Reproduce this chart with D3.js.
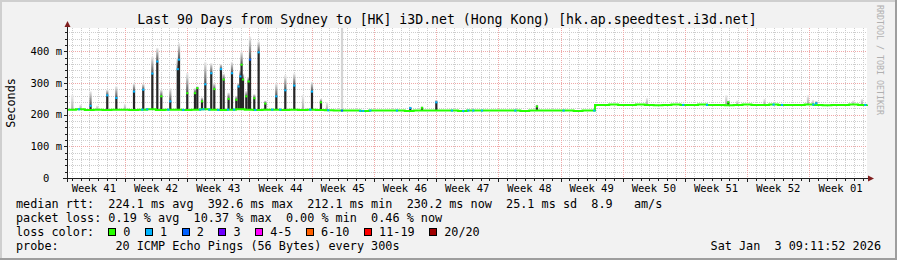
<!DOCTYPE html>
<html>
<head>
<meta charset="utf-8">
<script src="https://cdn.jsdelivr.net/npm/d3@7"></script>
<style>
  body { margin: 0; background: #f2f2f2; }
  svg { display: block; }
  text { font-family: "DejaVu Sans Mono", monospace; white-space: pre; }
</style>
</head>
<body>
<div id="chart"></div>
<script>
// ---- data ----
const graphStart = Date.UTC(2025, 9, 6, 11, 30);   // left edge of the plot
const graphDays = 90;
const yTop = 474;                                    // ms at top of plot

const titleText = "Last 90 Days from Sydney to [HK] i3D.net (Hong Kong) [hk.ap.speedtest.i3d.net]";
const statLines = [
  "median rtt:  224.1 ms avg  392.6 ms max  212.1 ms min  230.2 ms now  25.1 ms sd  8.9   am/s",
  "packet loss: 0.19 % avg  10.37 % max  0.00 % min  0.46 % now",
  "loss color:",
  "probe:        20 ICMP Echo Pings (56 Bytes) every 300s"
];
const stampText = "Sat Jan  3 09:11:52 2026";

const lossLabels = ["0", "1", "2", "3", "4-5", "6-10", "11-19", "20/20"];
const lossColors = ["#26ff00", "#00b4ff", "#0060ff", "#6e00ff", "#ff00ff", "#ff6000", "#ff0000", "#a00000"];

// median rtt baseline (ms), day offset from graph start
const baseDay = [0,1,2,3,4,5,6,7,8,9,10,11,12,13,14,15,16,17,18,19,20,21,22,23,24,25,26,27,28,29,30,
  31,32,33,34,35,36,37,38,39,40,41,42,43,44,45,46,47,48,49,50,51,52,53,54,55,56,57,58,59,59.4,
  60,61,62,63,64,65,66,67,68,69,70,71,72,73,74,75,76,77,78,79,80,81,82,83,84,85,86,87,88,89,90];
const baseMs = [216,217,215,216,215,216,216,215,216,217,215,216,216,215,216,217,216,215,216,217,216,215,216,216,215,216,215,216,215,214,213,
  213,213,212,213,213,213,213,212,213,213,213,213,213,212,213,213,213,213,213,213,212,213,213,213,213,213,212,213,213,231,
  231,232,231,231,232,231,230,231,232,231,231,232,231,231,230,231,232,231,231,232,231,231,231,232,231,230,231,231,232,231,232];

// congestion spikes: day offset, median (ms), max ping (ms), lost pings
const spikeDay  = [0.60,1.53,2.65,3.41,4.53,5.55,6.52,7.54,8.58,9.60,10.16,10.61,11.62,12.46,12.60,13.53,14.40,14.66,15.19,15.56,
  16.23,16.57,17.32,17.62,18.18,18.56,19.05,19.30,19.50,19.64,19.80,20.17,20.43,20.59,21.07,21.56,22.31,23.55,24.56,25.57,
  26.55,27.56,28.57,29.25,38.62,39.94,41.55,52.87,65.25,74.17,74.40,75.41,78.48,83.36,83.92,84.29,88.45,89.43];
const spikeMed  = [216,218,228,217,261,253,216,273,279,330,368,258,242,344,374,268,268,284,242,296,
  331,281,344,311,250,331,247,289,321,358,311,258,305,374,252,397,235,258,277,292,
  216,273,239,215,221,222,239,226,232,232,239,232,232,232,232,236,232,234];
const spikeMax  = [263,232,274,229,279,290,235,300,298,384,411,279,284,380,426,332,284,290,255,367,
  363,300,360,330,270,367,260,300,340,400,330,275,320,447,265,432,245,300,325,331,
  263,304,250,240,226,226,247,232,253,262,245,245,250,262,247,243,245,250];
const spikeLoss = [0,0,1,0,1,1,0,1,1,1,1,0,1,1,1,0,0,0,0,1,
  1,0,1,0,0,1,0,1,1,0,0,0,0,2,0,1,0,1,1,1,
  0,1,0,0,1,0,1,0,0,0,0,0,0,0,0,1,0,0];

// sample with a single very late ping (light smoke to the top)
const outlierDay = [30.94];

// loss marks on the baseline
const lossDay = [1.35,8.47,9.03,11.40,13.08,14.99,15.33,16.01,17.02,18.12,18.79,21.18,23.09,23.99,27.37,29.39,30.94,
  33.00,33.33,34.12,37.12,43.31,44.58,45.15,45.71,46.69,50.44,55.87,59.32,69.33,72.00,79.49,80.44,83.96,89.81];
const lossCnt = [1,1,1,1,1,1,1,1,1,1,1,1,1,1,1,1,2,
  1,1,1,1,1,1,1,1,1,1,1,1,1,1,1,1,1,1];

// ---- layout ----
const W = 897, H = 260;
const plot = { left: 67, right: 867, top: 28, bottom: 178 };
const axisFont = 10.5, legFont = 11.8;
const legCharW = legFont * 0.602;

const svg = d3.select("#chart").append("svg")
  .attr("width", W).attr("height", H)
  .attr("xml:space", "preserve");

const day = d => new Date(graphStart + d * 864e5);

const x = d3.scaleTime()
  .domain([day(0), day(graphDays)])
  .range([plot.left, plot.right]);
const y = d3.scaleLinear()
  .domain([0, yTop])
  .range([plot.bottom, plot.top]);

const px = v => Math.round(v) + 0.5;

// frame
svg.append("rect").attr("width", W).attr("height", H).attr("fill", "#f2f2f2");
svg.append("rect").attr("x", 0).attr("y", 0).attr("width", W).attr("height", 2).attr("fill", "#cfcfcf");
svg.append("rect").attr("x", 0).attr("y", 0).attr("width", 2).attr("height", H).attr("fill", "#cfcfcf");
svg.append("rect").attr("x", 0).attr("y", H - 2).attr("width", W).attr("height", 2).attr("fill", "#9e9e9e");
svg.append("rect").attr("x", W - 2).attr("y", 0).attr("width", 2).attr("height", H).attr("fill", "#9e9e9e");

svg.append("rect")
  .attr("x", plot.left).attr("y", plot.top)
  .attr("width", plot.right - plot.left).attr("height", plot.bottom - plot.top)
  .attr("fill", "#fff");

// grid
const grid = svg.append("g").attr("shape-rendering", "crispEdges").attr("stroke-dasharray", "1,1");
const [t0, t1] = x.domain();
const mondays = d3.utcMonday.range(t0, t1);
const days = d3.utcDay.range(t0, t1).filter(d => d.getUTCDay() !== 1);

grid.selectAll(".vmin").data(days).join("line")
  .attr("x1", d => px(x(d))).attr("x2", d => px(x(d)))
  .attr("y1", plot.top).attr("y2", plot.bottom)
  .attr("stroke", "#cdcdcd");

const yMinor = d3.range(20, yTop, 20).filter(v => v % 100 !== 0);
const yMajor = d3.range(100, yTop, 100);

grid.selectAll(".hmin").data(yMinor).join("line")
  .attr("x1", plot.left).attr("x2", plot.right)
  .attr("y1", d => px(y(d))).attr("y2", d => px(y(d)))
  .attr("stroke", "#cdcdcd");

grid.selectAll(".vmaj").data(mondays).join("line")
  .attr("x1", d => px(x(d))).attr("x2", d => px(x(d)))
  .attr("y1", plot.top).attr("y2", plot.bottom)
  .attr("stroke", "#f0a8a8");

grid.selectAll(".hmaj").data(yMajor).join("line")
  .attr("x1", plot.left).attr("x2", plot.right)
  .attr("y1", d => px(y(d))).attr("y2", d => px(y(d)))
  .attr("stroke", "#f0a8a8");

// smoke gradients
const defs = svg.append("defs");
function grad(id, lo, hi) {
  const g = defs.append("linearGradient").attr("id", id)
    .attr("x1", 0).attr("y1", 1).attr("x2", 0).attr("y2", 0);
  g.append("stop").attr("offset", 0).attr("stop-color", lo);
  g.append("stop").attr("offset", 1).attr("stop-color", hi);
}
grad("smokeDense", "#4c4c4c", "#ececec");
grad("smokeLight", "#a8a8a8", "#efefef");

const spikes = spikeDay.map((d, i) => ({ d, med: spikeMed[i], max: spikeMax[i], loss: spikeLoss[i] }));
const baseAt = d => baseMs[Math.max(0, d3.bisectRight(baseDay, d) - 1)];
const halfW = 0.125;
const dense = s => s.med - baseAt(s.d) > 4;

const lossIndex = n => n <= 3 ? n : n <= 5 ? 4 : n <= 10 ? 5 : n <= 19 ? 6 : 7;

const smoke = svg.append("g");
smoke.selectAll(".out").data(outlierDay).join("rect")
  .attr("x", d => x(day(d - halfW))).attr("width", d => x(day(d + halfW)) - x(day(d - halfW)))
  .attr("y", y(yTop)).attr("height", d => y(baseAt(d) + 3) - y(yTop))
  .attr("fill", "#d4d4d4");

smoke.selectAll(".gray").data(spikes).join("rect")
  .attr("x", s => x(day(s.d - halfW)))
  .attr("width", s => x(day(s.d + halfW)) - x(day(s.d - halfW)))
  .attr("y", s => y(s.max))
  .attr("height", s => y(s.med) - y(s.max))
  .attr("fill", s => dense(s) ? "url(#smokeDense)" : "url(#smokeLight)");

smoke.selectAll(".core").data(spikes.filter(dense)).join("rect")
  .attr("x", s => x(day(s.d - halfW)))
  .attr("width", s => x(day(s.d + halfW)) - x(day(s.d - halfW)))
  .attr("y", s => y(s.med))
  .attr("height", s => y(baseAt(s.d)) - y(s.med))
  .attr("fill", "#262626");

// median line
const line = d3.line()
  .x((d, i) => x(day(baseDay[i])))
  .y(d => y(d))
  .curve(d3.curveStepAfter);
svg.append("path")
  .attr("d", line(baseMs))
  .attr("fill", "none")
  .attr("stroke", lossColors[0])
  .attr("stroke-width", 2);

svg.append("g").selectAll("rect").data(spikes.filter(dense)).join("rect")
  .attr("x", s => x(day(s.d - halfW)))
  .attr("width", s => x(day(s.d + halfW)) - x(day(s.d - halfW)))
  .attr("y", s => y(s.med) - 1).attr("height", 2)
  .attr("fill", s => lossColors[lossIndex(s.loss)]);

svg.append("g").selectAll("rect").data(lossDay).join("rect")
  .attr("x", d => x(day(d - halfW)))
  .attr("width", d => x(day(d + halfW)) - x(day(d - halfW)))
  .attr("y", d => y(baseAt(d)) - 1).attr("height", 2)
  .attr("fill", (d, i) => lossColors[lossIndex(lossCnt[i])]);

// axes
const ax = svg.append("g").attr("shape-rendering", "crispEdges");
ax.append("line").attr("x1", plot.left - 4).attr("x2", plot.right + 2)
  .attr("y1", px(plot.bottom)).attr("y2", px(plot.bottom)).attr("stroke", "#1f1f1f");
ax.append("line").attr("x1", px(plot.left)).attr("x2", px(plot.left))
  .attr("y1", plot.bottom + 4).attr("y2", plot.top - 2).attr("stroke", "#1f1f1f");
ax.selectAll(".yt").data(yMinor).join("line")
  .attr("x1", plot.left - 2).attr("x2", plot.left)
  .attr("y1", d => px(y(d))).attr("y2", d => px(y(d))).attr("stroke", "#1f1f1f");
ax.selectAll(".yT").data(yMajor).join("line")
  .attr("x1", plot.left - 3).attr("x2", plot.left)
  .attr("y1", d => px(y(d))).attr("y2", d => px(y(d))).attr("stroke", "#1f1f1f");
ax.selectAll(".xt").data(days).join("line")
  .attr("x1", d => px(x(d))).attr("x2", d => px(x(d)))
  .attr("y1", plot.bottom + 1).attr("y2", plot.bottom + 3).attr("stroke", "#1f1f1f");
ax.selectAll(".xT").data(mondays).join("line")
  .attr("x1", d => px(x(d))).attr("x2", d => px(x(d)))
  .attr("y1", plot.bottom + 1).attr("y2", plot.bottom + 4).attr("stroke", "#1f1f1f");

svg.append("path")
  .attr("d", `M${plot.right + 7},${plot.bottom + 0.5}l-6,-3v6z`).attr("fill", "#801f1f");
svg.append("path")
  .attr("d", `M${plot.left + 0.5},${plot.top - 7}l-3,6h6z`).attr("fill", "#801f1f");

// axis labels
svg.append("g").selectAll("text").data([0, ...yMajor]).join("text")
  .attr("x", plot.left - 5).attr("y", d => y(d) + 3.6)
  .attr("text-anchor", "end")
  .attr("font-size", axisFont)
  .text(d => d === 0 ? "0  " : d + " m");

const weekStarts = d3.utcMonday.range(d3.utcMonday.floor(t0), t1)
  .filter(m => { const c = d3.utcHour.offset(m, 84); return c > t0 && c < t1; });
svg.append("g").selectAll("text").data(weekStarts).join("text")
  .attr("x", m => x(d3.utcHour.offset(m, 84)))
  .attr("y", 191.5)
  .attr("text-anchor", "middle")
  .attr("font-size", axisFont)
  .text(m => "Week " + d3.utcFormat("%V")(m));

svg.append("text")
  .attr("transform", "translate(15,103) rotate(-90)")
  .attr("text-anchor", "middle")
  .attr("font-size", legFont)
  .text("Seconds");

svg.append("text")
  .attr("x", 447).attr("y", 24)
  .attr("text-anchor", "middle")
  .attr("font-size", 13.2)
  .text(titleText);

svg.append("text")
  .attr("transform", "translate(877,5) rotate(90)")
  .attr("font-size", 8.3)
  .attr("fill", "#b0b0b0")
  .text("RRDTOOL / TOBI OETIKER");

// legend
svg.append("g").selectAll("text").data(statLines).join("text")
  .attr("x", 16).attr("y", (d, i) => 208 + i * 14)
  .attr("font-size", legFont)
  .text(d => d);

let sx = 16 + 13 * legCharW;
const swatches = lossLabels.map((lab, i) => {
  const item = { lab, color: lossColors[i], x: sx };
  sx += 15 + lab.length * legCharW + 14.6;
  return item;
});
const leg = svg.append("g");
leg.selectAll("rect").data(swatches).join("rect")
  .attr("x", d => Math.round(d.x) + 0.5).attr("y", 228.5)
  .attr("width", 7).attr("height", 7)
  .attr("fill", d => d.color).attr("stroke", "#000")
  .attr("shape-rendering", "crispEdges");
leg.selectAll("text").data(swatches).join("text")
  .attr("x", d => d.x + 15).attr("y", 236)
  .attr("font-size", legFont)
  .text(d => d.lab);

svg.append("text")
  .attr("x", 881).attr("y", 250)
  .attr("text-anchor", "end")
  .attr("font-size", legFont)
  .text(stampText);
</script>
</body>
</html>
